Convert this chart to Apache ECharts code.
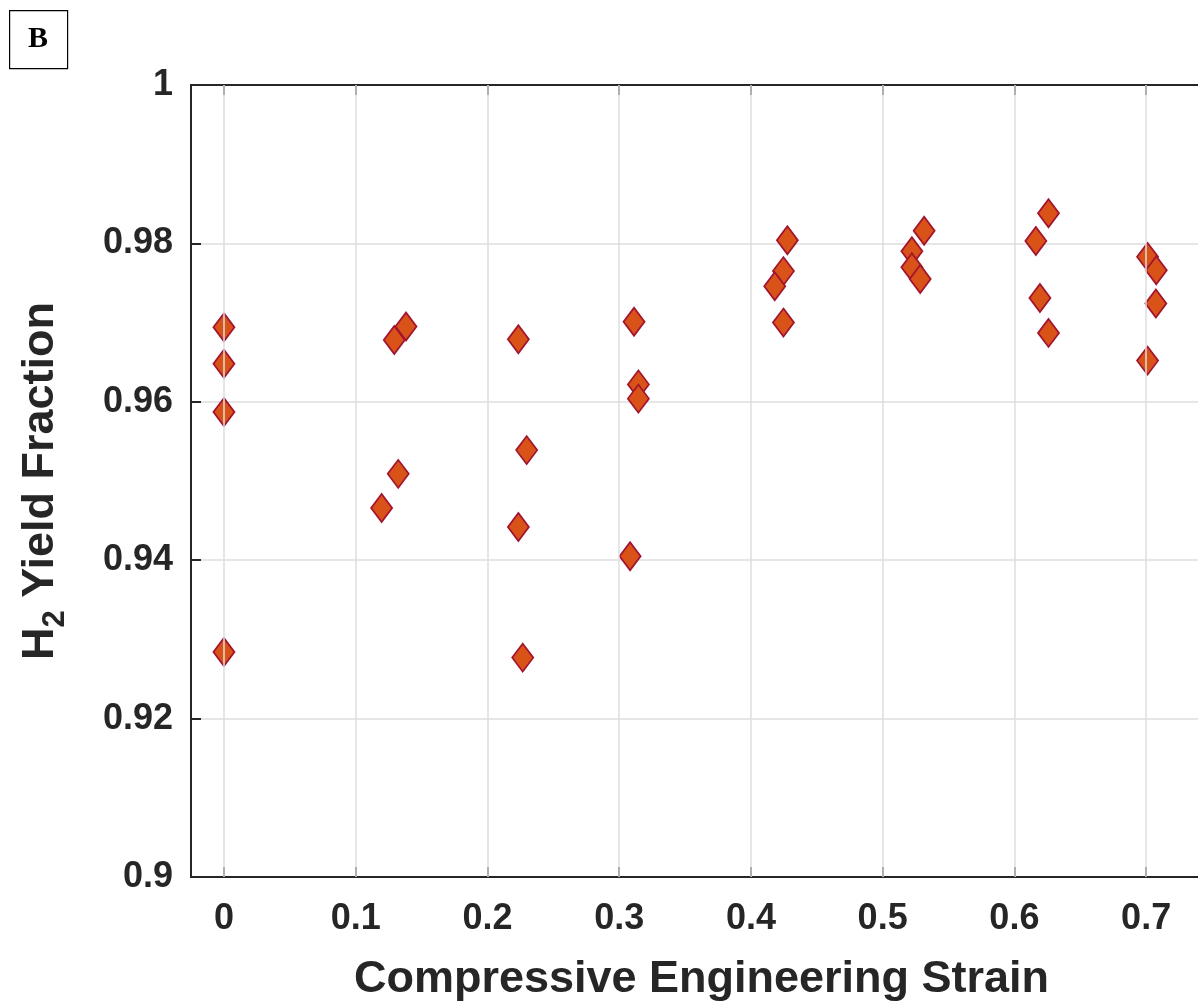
<!DOCTYPE html>
<html>
<head>
<meta charset="utf-8">
<script src="https://cdn.jsdelivr.net/npm/echarts@6/dist/echarts.min.js"></script>
<style>html,body{margin:0;padding:0;background:#fff;}#c{width:1198px;height:1002px;}</style>
</head>
<body>
<div id="c"></div>
<script>
// Data
const strain = [
  0, 0, 0, 0,
  0.1382, 0.1293, 0.1323, 0.1197,
  0.2235, 0.2298, 0.2235, 0.2268,
  0.3113, 0.3146, 0.3146, 0.3083,
  0.4277, 0.4247, 0.4181, 0.4247,
  0.5315, 0.5222, 0.5222, 0.5285,
  0.6259, 0.6163, 0.6194, 0.6259,
  0.7011, 0.7077, 0.7074, 0.7011
];
const yieldFraction = [
  0.9694, 0.9648, 0.9587, 0.9284,
  0.9695, 0.9678, 0.9509, 0.9466,
  0.9679, 0.9539, 0.9442, 0.9277,
  0.9701, 0.9622, 0.9604, 0.9405,
  0.9804, 0.9765, 0.9746, 0.9700,
  0.9816, 0.9790, 0.9770, 0.9755,
  0.9838, 0.9803, 0.9731, 0.9687,
  0.9783, 0.9766, 0.9724, 0.9652
];
const xTicks = [0, 0.1, 0.2, 0.3, 0.4, 0.5, 0.6, 0.7];
const yTicks = [0.9, 0.92, 0.94, 0.96, 0.98, 1];

const points = strain.map((s, i) => [s, yieldFraction[i]]);
const dark = '#262626';
const font = '"Liberation Sans", Arial, Helvetica, sans-serif';

const chart = echarts.init(document.getElementById('c'), null, {renderer: 'canvas'});
chart.setOption({
  animation: false,
  backgroundColor: '#fff',
  grid: {left: 191, top: 85, width: 1021, height: 792, containLabel: false, outerBoundsMode: 'none'},
  xAxis: [{
    type: 'value', min: -0.025, max: 0.75, interval: 0.1,
    position: 'bottom',
    axisLine: {show: true, onZero: false, lineStyle: {color: dark, width: 2}},
    axisTick: {show: true, inside: true, length: 10, lineStyle: {color: dark, width: 2},
      customValues: xTicks},
    axisLabel: {show: true, color: dark, fontSize: 36, fontWeight: 'bold', fontFamily: font, margin: 24,
      customValues: xTicks, formatter: v => String(+v.toFixed(2))},
    splitLine: {show: false},
    name: 'Compressive Engineering Strain', nameLocation: 'middle', nameGap: 80,
    nameTextStyle: {color: dark, fontSize: 45, fontWeight: 'bold', fontFamily: font}
  }, {
    type: 'value', min: -0.025, max: 0.75, interval: 0.1,
    position: 'top',
    axisLine: {show: true, onZero: false, lineStyle: {color: dark, width: 2}},
    axisTick: {show: true, inside: true, length: 10, lineStyle: {color: dark, width: 2},
      customValues: xTicks},
    axisLabel: {show: false},
    splitLine: {show: false}
  }],
  yAxis: [{
    type: 'value', min: 0.9, max: 1, interval: 0.02,
    axisLine: {show: true, onZero: false, lineStyle: {color: dark, width: 2}},
    axisTick: {show: true, inside: true, length: 10, lineStyle: {color: dark, width: 2},
      customValues: yTicks},
    axisLabel: {show: true, color: dark, fontSize: 36, fontWeight: 'bold', fontFamily: font, margin: 18,
      customValues: yTicks, formatter: v => String(+v.toFixed(2))},
    splitLine: {show: true, lineStyle: {color: '#dedede', width: 1.5}},
    name: '{a|H}{b|2}{a| Yield Fraction}', nameLocation: 'middle', nameGap: 120, nameRotate: 90,
    nameTextStyle: {
      color: dark, fontFamily: font, fontWeight: 'bold', fontSize: 45,
      rich: {
        a: {color: dark, fontFamily: font, fontWeight: 'bold', fontSize: 45},
        b: {color: dark, fontFamily: font, fontWeight: 'bold', fontSize: 31, padding: [30, 0, 0, 0]}
      }
    }
  }],
  series: [{
    type: 'scatter',
    xAxisIndex: 0,
    data: points,
    symbol: 'diamond',
    symbolSize: [21, 28],
    itemStyle: {color: '#D95319', borderColor: '#A2142F', borderWidth: 1.8, opacity: 1}
  }, {
    // vertical grid lines at x ticks
    type: 'scatter', data: [], silent: true,
    markLine: {
      silent: true, symbol: 'none', label: {show: false},
      lineStyle: {color: '#dedede', width: 1.5, type: 'solid'},
      data: xTicks.map(v => ({xAxis: v}))
    },
    z: 0
  }],
  graphic: [{
    type: 'rect', left: 9, top: 10, z: 10,
    shape: {width: 58, height: 58},
    style: {fill: '#fff', stroke: '#000', lineWidth: 1.2}
  }, {
    type: 'text', left: 28, top: 24, z: 11,
    style: {text: 'B', fill: '#000', font: 'bold 30px "Liberation Serif", "Times New Roman", serif'}
  }]
});
</script>
</body>
</html>
